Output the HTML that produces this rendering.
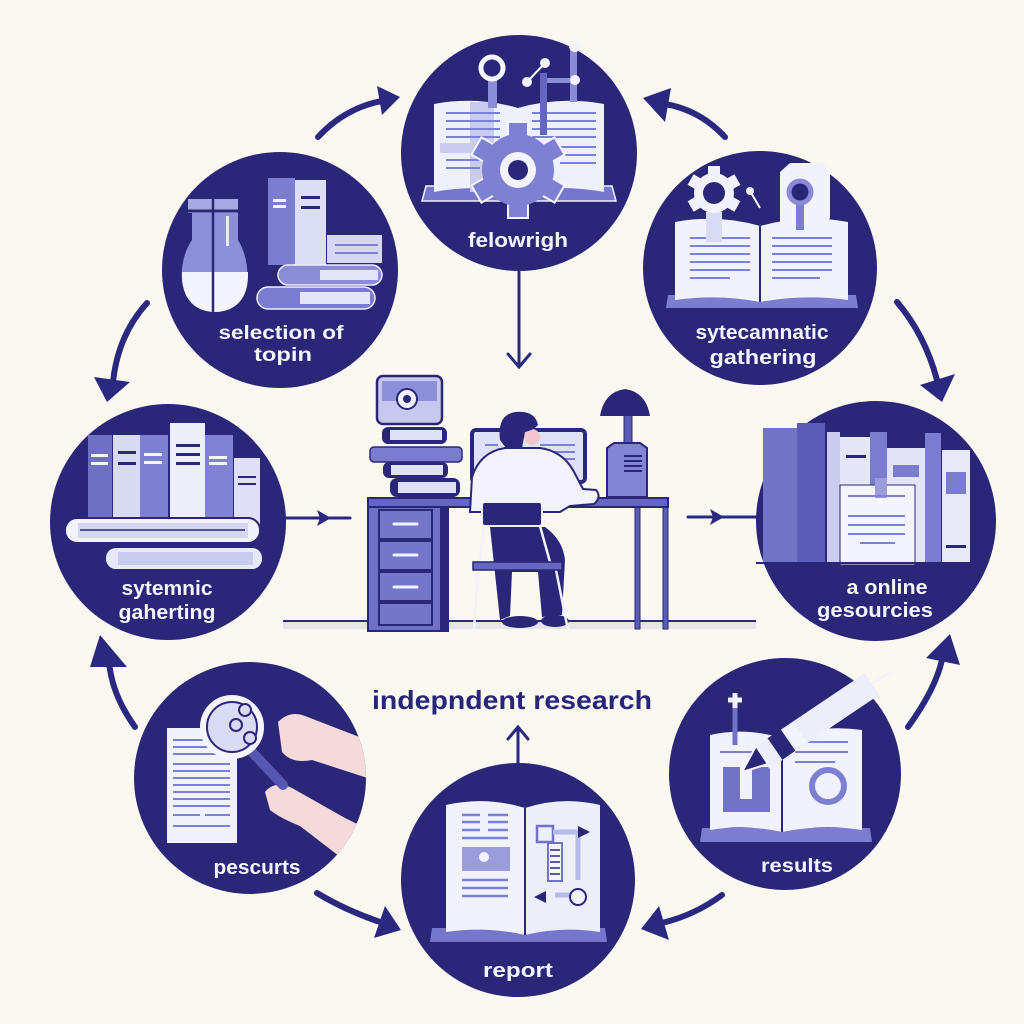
<!DOCTYPE html>
<html><head><meta charset="utf-8">
<style>
html,body{margin:0;padding:0;background:#faf8f1;}
svg{display:block}
text{font-family:"Liberation Sans","DejaVu Sans",sans-serif;}
</style></head><body>
<svg width="1024" height="1024" viewBox="0 0 1024 1024" xmlns="http://www.w3.org/2000/svg">
<defs>
  <clipPath id="cbl"><circle cx="250" cy="778" r="116"/></clipPath>
  <clipPath id="cbr"><circle cx="785" cy="774" r="116"/></clipPath>
</defs>
<rect width="1024" height="1024" fill="#faf8f1"/>

<!-- ===== curved arrows ===== -->
<g fill="none" stroke="#2b2880" stroke-width="6" stroke-linecap="round">
  <path d="M318,137 Q345,108 382,101"/>
  <path d="M725,137 Q700,110 665,104"/>
  <path d="M897,302 Q925,335 937,380"/>
  <path d="M147,303 Q118,335 113,382"/>
  <path d="M135,727 Q112,695 109,662"/>
  <path d="M317,893 Q345,910 380,922"/>
  <path d="M722,895 Q695,915 662,923"/>
  <path d="M908,727 Q935,690 942,660"/>
</g>
<g fill="#2b2880">
  <polygon points="400,97 377,86 382,115"/>
  <polygon points="643,98 671,88 665,122"/>
  <polygon points="942,402 920,385 955,374"/>
  <polygon points="107,402 94,377 130,382"/>
  <polygon points="100,635 90,667 127,667"/>
  <polygon points="401,930 374,938 385,906"/>
  <polygon points="641,929 659,906 669,940"/>
  <polygon points="950,634 960,665 926,658"/>
</g>

<!-- ===== straight arrows ===== -->
<g stroke="#2b2880" stroke-width="3" fill="none" stroke-linecap="round">
  <line x1="519" y1="272" x2="519" y2="366"/>
  <polyline points="508,354 519,367 530,354"/>
  <line x1="285" y1="518" x2="350" y2="518"/>
  <line x1="688" y1="517" x2="756" y2="517"/>
  <line x1="518" y1="763" x2="518" y2="728"/>
  <polyline points="508,739 518,727 528,739"/>
</g>
<g fill="#2b2880">
  <polygon points="331,518 317,510 320,518 317,526"/>
  <polygon points="724,517 710,509 713,517 710,525"/>
</g>

<!-- ===== circles ===== -->
<g fill="#2a2778">
  <circle cx="519" cy="153" r="118"/>
  <circle cx="280" cy="270" r="118"/>
  <circle cx="760" cy="268" r="117"/>
  <circle cx="168" cy="522" r="118"/>
  <circle cx="876" cy="521" r="120"/>
  <circle cx="250" cy="778" r="116"/>
  <circle cx="518" cy="880" r="117"/>
  <circle cx="785" cy="774" r="116"/>
</g>

<!-- ===== top center ===== -->
<g>
  <path d="M426,186 L612,186 L616,201 L422,201 Z" fill="#7577cc" stroke="#eef0fb" stroke-width="1.5"/>
  <path d="M434,104 Q476,96 518,108 L518,192 Q476,184 434,192 Z" fill="#eef0fb"/>
  <path d="M518,108 Q560,96 604,104 L604,192 Q560,184 518,192 Z" fill="#eef0fb"/>
  <rect x="470" y="102" width="24" height="90" fill="#c9cbef"/>
  <rect x="440" y="143" width="70" height="10" fill="#c9cbef"/>
  <g stroke="#7b80d8" stroke-width="2">
    <line x1="446" y1="113" x2="500" y2="113"/><line x1="446" y1="121" x2="500" y2="121"/>
    <line x1="446" y1="129" x2="500" y2="129"/><line x1="446" y1="137" x2="500" y2="137"/>
    <line x1="446" y1="160" x2="480" y2="160"/><line x1="446" y1="168" x2="480" y2="168"/>
    <line x1="532" y1="113" x2="596" y2="113"/><line x1="532" y1="121" x2="596" y2="121"/>
    <line x1="532" y1="129" x2="596" y2="129"/><line x1="532" y1="137" x2="596" y2="137"/>
    <line x1="560" y1="147" x2="596" y2="147"/><line x1="560" y1="155" x2="596" y2="155"/>
    <line x1="560" y1="163" x2="596" y2="163"/>
  </g>
  <rect x="488" y="78" width="9" height="30" fill="#8a8cd6"/>
  <circle cx="492" cy="68" r="11" fill="#2a2778" stroke="#f4f4fc" stroke-width="5"/>
  <line x1="527" y1="82" x2="545" y2="63" stroke="#f4f4fc" stroke-width="2"/>
  <circle cx="527" cy="82" r="5" fill="#f4f4fc"/><circle cx="545" cy="63" r="5" fill="#f4f4fc"/>
  <rect x="540" y="73" width="7" height="62" fill="#6466c0"/>
  <rect x="570" y="47" width="7" height="55" fill="#8a8cd6"/>
  <rect x="547" y="78" width="27" height="5" fill="#8a8cd6"/>
  <circle cx="575" cy="46" r="6" fill="#f4f4fc"/><circle cx="575" cy="80" r="5" fill="#f4f4fc"/>
  <g transform="translate(518,170)">
    <g fill="#7e81d2" stroke="#f4f4fc" stroke-width="2">
      <rect x="-10" y="-48" width="20" height="16"/>
      <rect x="-10" y="-48" width="20" height="16" transform="rotate(60)"/>
      <rect x="-10" y="-48" width="20" height="16" transform="rotate(120)"/>
      <rect x="-10" y="-48" width="20" height="16" transform="rotate(180)"/>
      <rect x="-10" y="-48" width="20" height="16" transform="rotate(240)"/>
      <rect x="-10" y="-48" width="20" height="16" transform="rotate(300)"/>
    </g>
    <circle r="36" fill="#7e81d2"/>
    <circle r="18" fill="#f4f4fc"/>
    <circle r="10" fill="#2a2778"/>
  </g>
  <text x="518" y="247" text-anchor="middle" font-size="20" font-weight="bold" fill="#f4f4fc" textLength="100" lengthAdjust="spacingAndGlyphs">felowrigh</text>
</g>

<!-- ===== top left ===== -->
<g>
  <rect x="188" y="199" width="50" height="14" fill="#a6a8e2"/>
  <path d="M192,213 L192,240 Q180,258 182,282 Q188,310 215,312 Q242,310 247,282 Q249,258 238,240 L238,213 Z" fill="#8d90d8"/>
  <path d="M182,272 L248,272 Q249,300 230,309 Q215,315 200,309 Q181,300 182,272 Z" fill="#f4f4fc"/>
  <line x1="213" y1="199" x2="213" y2="312" stroke="#2a2778" stroke-width="2.5"/>
  <line x1="188" y1="211" x2="238" y2="211" stroke="#2a2778" stroke-width="3"/>
  <rect x="226" y="216" width="3" height="30" fill="#e8e9fa"/>
  <rect x="268" y="178" width="27" height="87" fill="#7b7ed0"/>
  <rect x="295" y="180" width="31" height="85" fill="#dcdef4"/>
  <rect x="273" y="199" width="13" height="3" fill="#f4f4fc"/><rect x="273" y="205" width="13" height="3" fill="#f4f4fc"/>
  <rect x="301" y="196" width="19" height="3" fill="#2a2778"/><rect x="301" y="206" width="19" height="3" fill="#2a2778"/>
  <rect x="327" y="235" width="55" height="28" fill="#d5d7f3"/>
  <line x1="335" y1="245" x2="378" y2="245" stroke="#8082d2" stroke-width="2"/>
  <line x1="335" y1="253" x2="378" y2="253" stroke="#8082d2" stroke-width="2"/>
  <rect x="278" y="265" width="104" height="20" rx="10" fill="#8a8cd6" stroke="#f0f0fa" stroke-width="1.5"/>
  <rect x="320" y="270" width="58" height="10" fill="#e4e5f8"/>
  <rect x="257" y="287" width="118" height="22" rx="11" fill="#7a7cd0" stroke="#f0f0fa" stroke-width="1.5"/>
  <rect x="300" y="292" width="70" height="12" fill="#e4e5f8"/>
  <text x="281" y="339" text-anchor="middle" font-size="19" font-weight="bold" fill="#f4f4fc" textLength="125" lengthAdjust="spacingAndGlyphs">selection of</text>
  <text x="283" y="361" text-anchor="middle" font-size="19" font-weight="bold" fill="#f4f4fc" textLength="58" lengthAdjust="spacingAndGlyphs">topin</text>
</g>

<!-- ===== top right ===== -->
<g>
  <path d="M668,295 L856,295 L858,308 L666,308 Z" fill="#7b7dd0"/>
  <path d="M675,222 Q718,214 760,226 L760,302 Q718,294 675,300 Z" fill="#f1f2fb"/>
  <path d="M760,226 Q804,214 848,222 L848,300 Q804,294 760,302 Z" fill="#f1f2fb"/>
  <line x1="760" y1="226" x2="760" y2="302" stroke="#2a2778" stroke-width="2"/>
  <g stroke="#7b80d8" stroke-width="2">
    <line x1="690" y1="238" x2="750" y2="238"/><line x1="690" y1="246" x2="750" y2="246"/>
    <line x1="690" y1="254" x2="750" y2="254"/><line x1="690" y1="262" x2="750" y2="262"/>
    <line x1="690" y1="270" x2="750" y2="270"/><line x1="690" y1="278" x2="730" y2="278"/>
    <line x1="772" y1="238" x2="832" y2="238"/><line x1="772" y1="246" x2="832" y2="246"/>
    <line x1="772" y1="254" x2="832" y2="254"/><line x1="772" y1="262" x2="832" y2="262"/>
    <line x1="772" y1="270" x2="832" y2="270"/><line x1="772" y1="278" x2="820" y2="278"/>
  </g>
  <rect x="706" y="212" width="16" height="30" fill="#d9dbf4"/>
  <g transform="translate(714,193)" fill="#f1f2fb">
    <rect x="-6" y="-27" width="12" height="10"/>
    <rect x="-6" y="-27" width="12" height="10" transform="rotate(60)"/>
    <rect x="-6" y="-27" width="12" height="10" transform="rotate(120)"/>
    <rect x="-6" y="-27" width="12" height="10" transform="rotate(240)"/>
    <rect x="-6" y="-27" width="12" height="10" transform="rotate(300)"/>
    <circle r="20"/>
    <circle r="11" fill="#2a2778"/>
  </g>
  <circle cx="750" cy="191" r="4" fill="#f1f2fb"/>
  <line x1="750" y1="191" x2="760" y2="208" stroke="#f1f2fb" stroke-width="2"/>
  <path d="M780,172 L790,163 L822,163 L830,172 L830,218 L823,230 L780,230 Z" fill="#f1f2fb"/>
  <rect x="796" y="198" width="8" height="32" fill="#7b7dd0"/>
  <circle cx="800" cy="192" r="11" fill="#2a2778" stroke="#8a8cd6" stroke-width="5"/>
  <text x="762" y="339" text-anchor="middle" font-size="20" font-weight="bold" fill="#f4f4fc" textLength="133" lengthAdjust="spacingAndGlyphs">sytecamnatic</text>
  <text x="763" y="364" text-anchor="middle" font-size="20" font-weight="bold" fill="#f4f4fc" textLength="107" lengthAdjust="spacingAndGlyphs">gathering</text>
</g>

<!-- ===== left middle ===== -->
<g>
  <rect x="88" y="435" width="24" height="82" fill="#6e70c4"/>
  <rect x="113" y="435" width="27" height="82" fill="#d8daf2"/>
  <rect x="140" y="435" width="28" height="82" fill="#7d7fd0"/>
  <rect x="170" y="423" width="35" height="94" fill="#eceefa"/>
  <rect x="205" y="435" width="28" height="82" fill="#8082d2"/>
  <rect x="234" y="458" width="26" height="75" fill="#dfe0f5"/>
  <g fill="#f4f4fc"><rect x="91" y="454" width="17" height="3"/><rect x="91" y="462" width="17" height="3"/>
  <rect x="144" y="453" width="18" height="3"/><rect x="144" y="461" width="18" height="3"/>
  <rect x="209" y="456" width="18" height="3"/><rect x="209" y="462" width="18" height="3"/></g>
  <g fill="#2a2778"><rect x="118" y="451" width="18" height="3"/><rect x="118" y="462" width="18" height="3"/>
  <rect x="176" y="444" width="24" height="3"/><rect x="176" y="453" width="24" height="3"/><rect x="176" y="462" width="24" height="3"/>
  <rect x="238" y="476" width="18" height="2"/><rect x="238" y="483" width="18" height="2"/></g>
  <rect x="65" y="518" width="195" height="25" rx="12" fill="#f1f2fb" stroke="#2a2778" stroke-width="2"/>
  <rect x="78" y="523" width="170" height="15" fill="#d6d8f3"/>
  <line x1="80" y1="530" x2="245" y2="530" stroke="#2a2778" stroke-width="1.5"/>
  <rect x="105" y="547" width="158" height="23" rx="11" fill="#e8e9f8" stroke="#2a2778" stroke-width="2"/>
  <rect x="118" y="552" width="135" height="13" fill="#c9cbef"/>
  <text x="167" y="595" text-anchor="middle" font-size="20" font-weight="bold" fill="#f4f4fc" textLength="91" lengthAdjust="spacingAndGlyphs">sytemnic</text>
  <text x="167" y="619" text-anchor="middle" font-size="20" font-weight="bold" fill="#f4f4fc" textLength="97" lengthAdjust="spacingAndGlyphs">gaherting</text>
</g>

<!-- ===== right middle ===== -->
<g>
  <rect x="763" y="428" width="34" height="135" fill="#7073c6"/>
  <rect x="797" y="423" width="28" height="140" fill="#5a5cb5"/>
  <rect x="827" y="432" width="13" height="131" fill="#c9cbef"/>
  <rect x="840" y="437" width="30" height="75" fill="#e5e6f8"/>
  <rect x="870" y="432" width="17" height="131" fill="#7a7cd0"/>
  <rect x="887" y="448" width="38" height="115" fill="#e2e3f7"/>
  <rect x="893" y="465" width="26" height="12" fill="#7a7cd0"/>
  <rect x="925" y="433" width="16" height="130" fill="#7a7cd0"/>
  <rect x="942" y="450" width="28" height="113" fill="#e8e9f8"/>
  <rect x="946" y="472" width="20" height="22" fill="#7a7cd0"/>
  <rect x="946" y="545" width="20" height="3" fill="#2a2778"/>
  <rect x="846" y="455" width="20" height="3" fill="#2a2778"/>
  <rect x="840" y="485" width="75" height="80" fill="#f4f4fc" stroke="#2a2778" stroke-width="1"/>
  <rect x="875" y="478" width="12" height="20" fill="#9a9cdc"/>
  <g stroke="#7b80d8" stroke-width="2">
    <line x1="848" y1="496" x2="905" y2="496"/>
    <line x1="848" y1="516" x2="905" y2="516"/><line x1="848" y1="525" x2="905" y2="525"/>
    <line x1="848" y1="534" x2="905" y2="534"/><line x1="860" y1="543" x2="895" y2="543"/>
  </g>
  <line x1="756" y1="563" x2="975" y2="563" stroke="#2a2778" stroke-width="2"/>
  <text x="887" y="594" text-anchor="middle" font-size="20" font-weight="bold" fill="#f4f4fc" textLength="81" lengthAdjust="spacingAndGlyphs">a online</text>
  <text x="875" y="617" text-anchor="middle" font-size="20" font-weight="bold" fill="#f4f4fc" textLength="116" lengthAdjust="spacingAndGlyphs">gesourcies</text>
</g>

<!-- ===== bottom left ===== -->
<g>
  <rect x="167" y="728" width="70" height="115" fill="#f1f2fb"/>
  <g stroke="#7b80d8" stroke-width="2">
    <line x1="173" y1="740" x2="230" y2="740"/><line x1="173" y1="747" x2="230" y2="747"/>
    <line x1="173" y1="754" x2="230" y2="754"/><line x1="173" y1="764" x2="230" y2="764"/>
    <line x1="173" y1="771" x2="230" y2="771"/><line x1="173" y1="778" x2="230" y2="778"/>
    <line x1="173" y1="785" x2="230" y2="785"/><line x1="173" y1="792" x2="230" y2="792"/>
    <line x1="173" y1="799" x2="230" y2="799"/><line x1="173" y1="806" x2="230" y2="806"/>
    <line x1="173" y1="815" x2="200" y2="815"/><line x1="205" y1="815" x2="230" y2="815"/>
    <line x1="173" y1="826" x2="230" y2="826"/>
  </g>
  <g clip-path="url(#cbl)">
    <path d="M278,722 Q290,710 305,716 L380,745 L380,782 L312,760 Q292,764 282,752 Z" fill="#f6dada"/>
    <path d="M265,792 Q275,780 292,788 L345,818 L380,835 L370,880 L300,826 Q280,818 270,810 Z" fill="#f6dada"/>
  </g>
  <line x1="252" y1="752" x2="283" y2="785" stroke="#5557b0" stroke-width="10" stroke-linecap="round"/>
  <circle cx="232" cy="727" r="29" fill="#d9dbf4" stroke="#f4f4fc" stroke-width="6"/>
  <circle cx="232" cy="727" r="25" fill="none" stroke="#2a2778" stroke-width="2"/>
  <g fill="#d9dbf4" stroke="#2a2778" stroke-width="2">
    <circle cx="245" cy="710" r="6"/><circle cx="236" cy="725" r="6"/><circle cx="250" cy="738" r="6"/>
  </g>
  <text x="257" y="874" text-anchor="middle" font-size="20" font-weight="bold" fill="#f4f4fc" textLength="87" lengthAdjust="spacingAndGlyphs">pescurts</text>
</g>

<!-- ===== bottom right ===== -->
<g>
  <path d="M702,828 L870,828 L872,842 L700,842 Z" fill="#7b7dd0"/>
  <path d="M710,735 Q745,727 782,738 L782,832 Q745,824 710,830 Z" fill="#f1f2fb"/>
  <path d="M782,738 Q822,724 862,730 L862,830 Q822,824 782,832 Z" fill="#f1f2fb"/>
  <line x1="782" y1="738" x2="782" y2="832" stroke="#2a2778" stroke-width="2"/>
  <rect x="723" y="767" width="47" height="45" fill="#7073c6"/>
  <rect x="740" y="767" width="12" height="32" fill="#f1f2fb"/>
  <g stroke="#7b80d8" stroke-width="2">
    <line x1="720" y1="752" x2="760" y2="752"/>
    <line x1="800" y1="742" x2="848" y2="742"/><line x1="795" y1="752" x2="848" y2="752"/>
    <line x1="795" y1="762" x2="835" y2="762"/>
  </g>
  <circle cx="828" cy="786" r="16" fill="none" stroke="#7d80d2" stroke-width="6"/>
  <circle cx="828" cy="786" r="9" fill="none" stroke="#f1f2fb" stroke-width="3"/>
  <line x1="735" y1="705" x2="735" y2="745" stroke="#7073c6" stroke-width="5"/>
  <path d="M728,700 L742,700 M735,693 L735,708" stroke="#f1f2fb" stroke-width="5"/>
  <line x1="890" y1="672" x2="850" y2="699" stroke="#f1f2fb" stroke-width="2"/>
  <line x1="762" y1="758" x2="872" y2="684" stroke="#eceefa" stroke-width="26"/>
  <line x1="775" y1="749" x2="788" y2="740" stroke="#2a2778" stroke-width="26"/>
  <line x1="790" y1="739" x2="800" y2="732" stroke="#f4f4fc" stroke-width="24"/>
  <polygon points="742,772 768,764 756,746" fill="#2a2778" stroke="#f4f4fc" stroke-width="2"/>
  <text x="797" y="872" text-anchor="middle" font-size="19" font-weight="bold" fill="#f4f4fc" textLength="72" lengthAdjust="spacingAndGlyphs">results</text>
</g>

<!-- ===== bottom center ===== -->
<g>
  <path d="M432,928 L605,928 L607,942 L430,942 Z" fill="#7577cc"/>
  <path d="M446,805 Q486,796 525,808 L525,935 Q486,926 446,932 Z" fill="#f1f2fb"/>
  <path d="M525,808 Q562,796 600,805 L600,932 Q562,926 525,935 Z" fill="#eceefa"/>
  <line x1="525" y1="808" x2="525" y2="935" stroke="#2a2778" stroke-width="2"/>
  <g stroke="#7b80d8" stroke-width="2.5">
    <line x1="462" y1="815" x2="480" y2="815"/><line x1="488" y1="815" x2="508" y2="815"/>
    <line x1="462" y1="822" x2="480" y2="822"/><line x1="488" y1="822" x2="508" y2="822"/>
    <line x1="462" y1="830" x2="480" y2="830"/><line x1="488" y1="830" x2="508" y2="830"/>
    <line x1="462" y1="838" x2="508" y2="838"/>
    <line x1="462" y1="880" x2="508" y2="880"/><line x1="462" y1="888" x2="508" y2="888"/>
    <line x1="462" y1="896" x2="508" y2="896"/>
  </g>
  <rect x="462" y="847" width="48" height="24" fill="#9a9cdc"/>
  <circle cx="484" cy="857" r="5" fill="#f1f2fb"/>
  <rect x="537" y="826" width="16" height="16" fill="none" stroke="#7073c6" stroke-width="2.5"/>
  <path d="M553,832 L578,832 L578,880 M555,895 L578,895" stroke="#b8baea" stroke-width="5" fill="none"/>
  <polygon points="590,832 578,826 578,838" fill="#2a2778"/>
  <rect x="548" y="843" width="14" height="38" fill="#f4f4fc" stroke="#7073c6" stroke-width="2"/>
  <g stroke="#2a2778" stroke-width="1.5"><line x1="550" y1="850" x2="560" y2="850"/><line x1="550" y1="856" x2="560" y2="856"/><line x1="550" y1="862" x2="560" y2="862"/><line x1="550" y1="868" x2="560" y2="868"/><line x1="550" y1="874" x2="560" y2="874"/></g>
  <polygon points="534,897 546,891 546,903" fill="#2a2778"/>
  <circle cx="578" cy="897" r="8" fill="#f1f2fb" stroke="#2a2778" stroke-width="2"/>
  <text x="518" y="977" text-anchor="middle" font-size="20" font-weight="bold" fill="#f4f4fc" textLength="70" lengthAdjust="spacingAndGlyphs">report</text>
</g>

<!-- ===== desk scene ===== -->
<g>
  <rect x="283" y="621" width="473" height="8" fill="#e6e5ea"/>
  <line x1="283" y1="621" x2="756" y2="621" stroke="#2b2880" stroke-width="2"/>
  <rect x="635" y="507" width="5" height="122" fill="#5a5cb5" stroke="#2a2778" stroke-width="1"/>
  <rect x="663" y="507" width="5" height="122" fill="#5a5cb5" stroke="#2a2778" stroke-width="1"/>
  <rect x="368" y="498" width="300" height="9" fill="#6466c0" stroke="#2a2778" stroke-width="2"/>
  <rect x="368" y="507" width="80" height="124" fill="#6e70c6" stroke="#2a2778" stroke-width="2"/>
  <rect x="440" y="507" width="8" height="124" fill="#2a2778"/>
  <g fill="#7476ca" stroke="#2a2778" stroke-width="2">
    <rect x="379" y="510" width="53" height="29"/><rect x="379" y="541" width="53" height="29"/>
    <rect x="379" y="572" width="53" height="29"/><rect x="379" y="603" width="53" height="22"/>
  </g>
  <g stroke="#f1f2fb" stroke-width="3" stroke-linecap="round">
    <line x1="394" y1="524" x2="417" y2="524"/><line x1="394" y1="555" x2="417" y2="555"/><line x1="394" y1="587" x2="417" y2="587"/>
  </g>
  <rect x="390" y="478" width="70" height="19" rx="7" fill="#2a2778"/>
  <rect x="398" y="482" width="58" height="11" fill="#dfe1f6"/>
  <rect x="383" y="462" width="65" height="16" rx="6" fill="#2a2778"/>
  <rect x="391" y="465" width="52" height="10" fill="#dfe1f6"/>
  <rect x="370" y="447" width="92" height="15" rx="4" fill="#7a7cd0" stroke="#2a2778" stroke-width="1.5"/>
  <rect x="382" y="427" width="65" height="17" rx="6" fill="#2a2778"/>
  <rect x="390" y="430" width="52" height="10" fill="#dfe1f6"/>
  <rect x="377" y="376" width="65" height="48" rx="6" fill="#c6c8ee" stroke="#2a2778" stroke-width="2.5"/>
  <rect x="382" y="381" width="55" height="20" fill="#8d90d8"/>
  <circle cx="407" cy="399" r="10" fill="#f1f2fb" stroke="#2a2778" stroke-width="2"/>
  <circle cx="407" cy="399" r="4" fill="#2a2778"/>
  <rect x="472" y="430" width="113" height="52" rx="4" fill="#dfe2f7" stroke="#2a2778" stroke-width="4"/>
  <g stroke="#7b80d8" stroke-width="2"><line x1="540" y1="445" x2="575" y2="445"/><line x1="540" y1="452" x2="575" y2="452"/><line x1="540" y1="459" x2="575" y2="459"/><line x1="540" y1="466" x2="570" y2="466"/><line x1="485" y1="445" x2="498" y2="445"/></g>
  <rect x="624" y="412" width="8" height="34" fill="#5a5cb5" stroke="#2a2778" stroke-width="1"/>
  <path d="M600,416 Q604,392 625,389 Q646,392 650,416 Z" fill="#2a2778"/>
  <path d="M607,497 L607,448 L614,443 L640,443 L647,448 L647,497 Z" fill="#8385d3" stroke="#2a2778" stroke-width="2"/>
  <g stroke="#2a2778" stroke-width="2"><line x1="624" y1="456" x2="642" y2="456"/><line x1="624" y1="461" x2="642" y2="461"/><line x1="624" y1="466" x2="642" y2="466"/><line x1="624" y1="471" x2="642" y2="471"/></g>
  <path d="M490,527 L545,527 Q563,540 565,560 L562,615 L542,617 L538,572 L512,572 L510,616 L500,620 Z" fill="#2a2778"/>
  <ellipse cx="520" cy="622" rx="18" ry="6" fill="#2a2778"/>
  <ellipse cx="555" cy="621" rx="14" ry="6" fill="#2a2778"/>
  <path d="M470,512 L472,477 Q480,452 505,448 L540,448 Q562,451 573,470 L583,489 L596,490 Q602,497 594,504 L570,506 L560,512 Z" fill="#f4f3fb" stroke="#2a2778" stroke-width="2"/>
  <circle cx="532" cy="437" r="8" fill="#f2c6cc"/>
  <path d="M500,440 Q497,415 515,412 Q535,410 538,425 Q534,430 525,432 L522,448 L506,448 Z" fill="#2a2778"/>
  <rect x="482" y="502" width="60" height="24" rx="3" fill="#2a2778" stroke="#f1f2fb" stroke-width="2"/>
  <g stroke="#f1f2fb" stroke-width="2.5">
    <line x1="484" y1="526" x2="480" y2="562"/><line x1="540" y1="526" x2="550" y2="562"/>
    <line x1="478" y1="570" x2="474" y2="630"/><line x1="556" y1="570" x2="568" y2="630"/>
  </g>
  <rect x="473" y="562" width="89" height="8" fill="#6466c0" stroke="#2a2778" stroke-width="1.5"/>
</g>

<text x="512" y="709" text-anchor="middle" font-size="26" font-weight="bold" fill="#27267a" textLength="280" lengthAdjust="spacingAndGlyphs">indepndent research</text>
</svg>
</body></html>
